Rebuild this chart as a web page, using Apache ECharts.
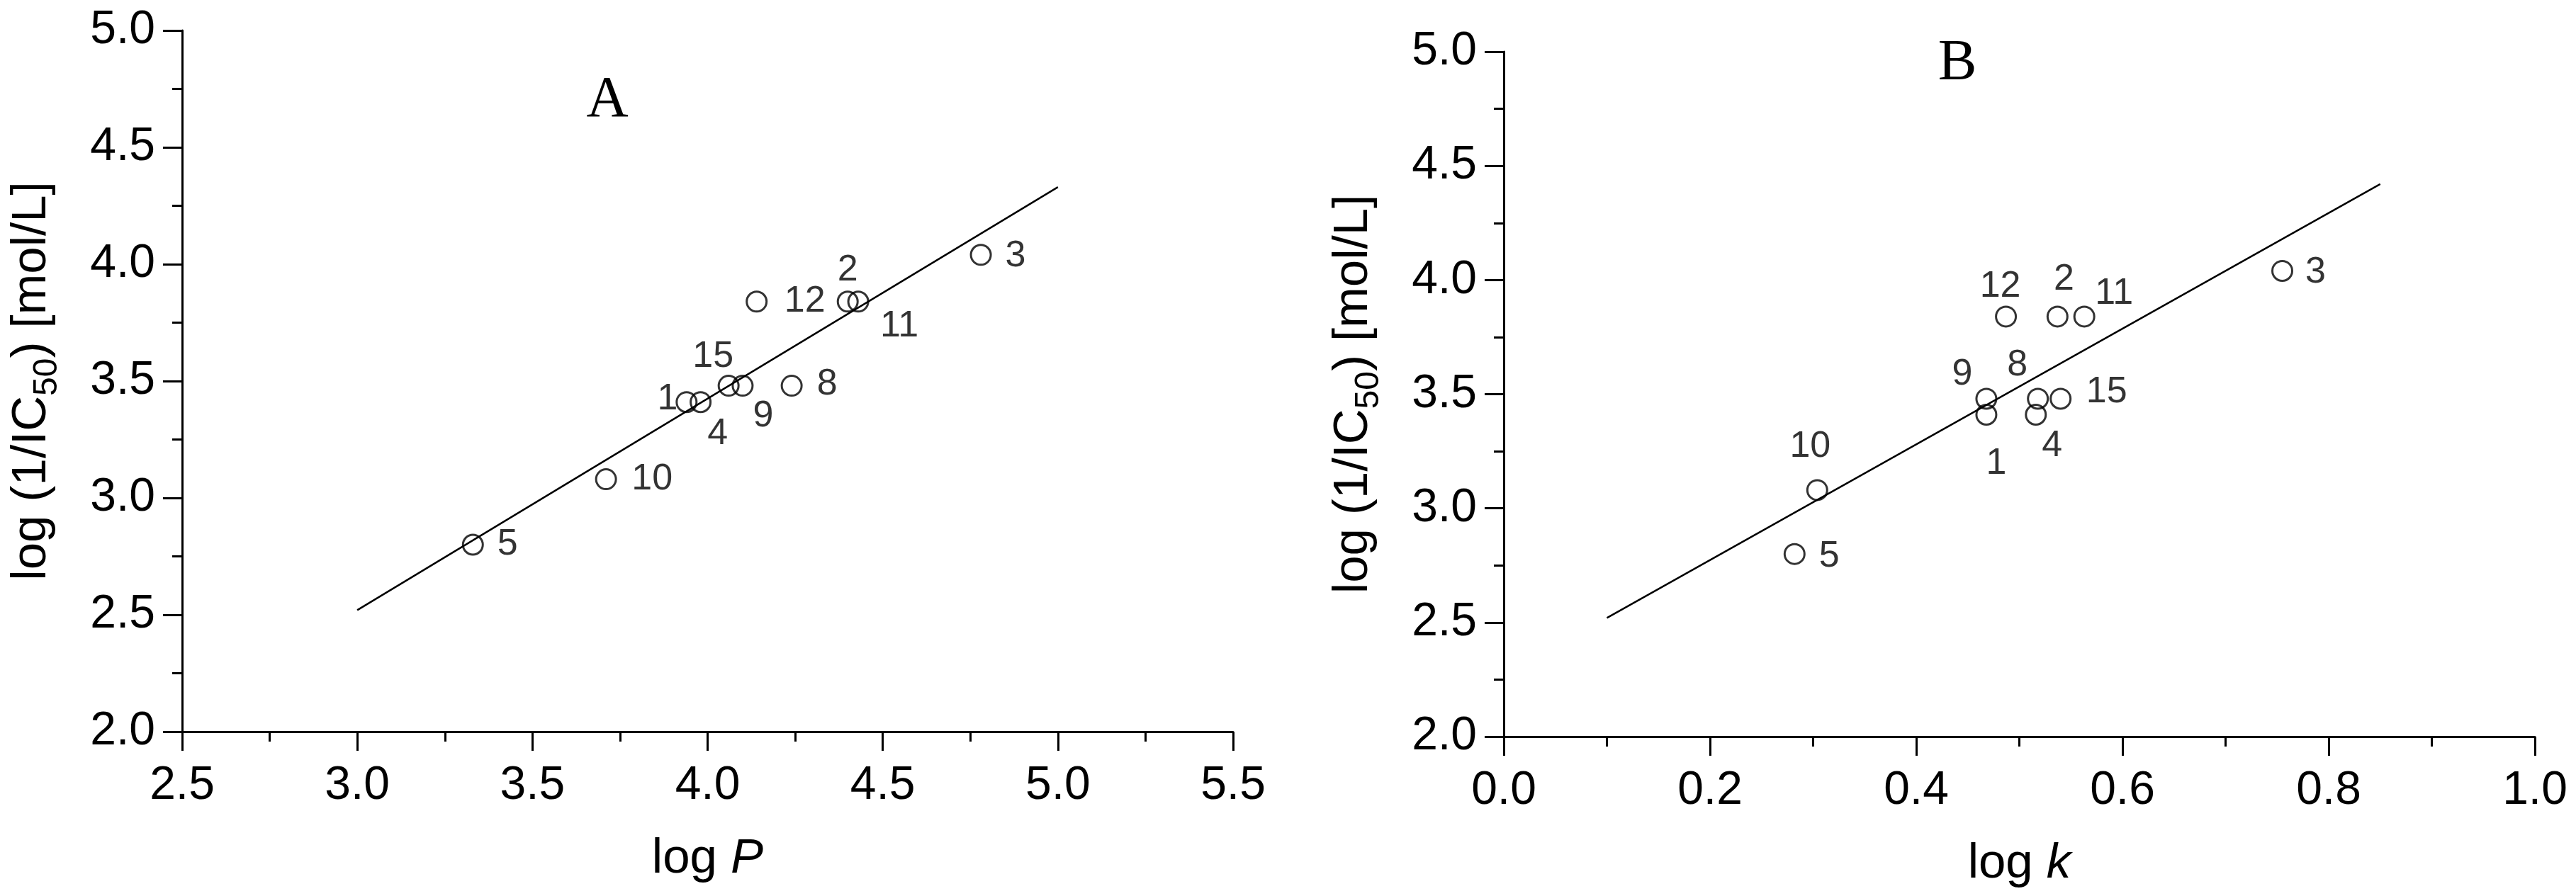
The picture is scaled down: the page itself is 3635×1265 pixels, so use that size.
<!DOCTYPE html>
<html>
<head>
<meta charset="utf-8">
<script src="https://cdn.jsdelivr.net/npm/echarts@6/dist/echarts.min.js"></script>
<style>
  html, body { margin: 0; padding: 0; background: #fff; }
  #chartDiv { width: 3635px; height: 1265px; }
</style>
</head>
<body>
<div id="chartDiv"></div>
<script>
// compound numbers
var compounds = ['1', '2', '3', '4', '5', '8', '9', '10', '11', '12', '15'];
// log (1/IC50) [mol/L]
var pIC50 = [3.41, 3.84, 4.04, 3.41, 2.80, 3.48, 3.48, 3.08, 3.84, 3.84, 3.48];
// panel A: log P
var logP = [3.94, 4.40, 4.78, 3.98, 3.33, 4.24, 4.10, 3.71, 4.43, 4.14, 4.06];
// panel B: log k
var logK = [0.468, 0.537, 0.755, 0.516, 0.282, 0.518, 0.468, 0.304, 0.563, 0.487, 0.540];
// regression lines (end points)
var fitAx = [3.0, 5.0];
var fitAy = [2.52, 4.33];
var fitBx = [0.10, 0.85];
var fitBy = [2.52, 4.42];

// label placement around each point (pixels), same order as compounds
var labelOffA = [[-27, -4], [0, -44], [49, 2], [24, 45], [49, 0], [50, -2], [29, 43], [65, 0], [58, 35], [68, 0], [-22, -41]];
var labelOffB = [[14, 69], [9, -52], [47, 2], [23, 44], [49, 4], [-29, -47], [-34, -34], [-10, -61], [42, -32], [-8, -42], [65, -9]];

var sans = '"Liberation Sans", Arial, sans-serif';
var serif = '"Liberation Serif", "Times New Roman", serif';

function points(xs, offs) {
	return compounds.map(function (c, i) {
		return { name: c, value: [xs[i], pIC50[i]], label: { offset: offs[i] } };
	});
}
function pairs(xs, ys) {
	return xs.map(function (x, i) { return [x, ys[i]]; });
}

function xAxisOf(idx, min, max, interval, nameRich) {
	return {
		gridIndex: idx, type: 'value', min: min, max: max, interval: interval,
		name: nameRich, nameLocation: 'middle', nameGap: 145,
		nameTextStyle: {
			rich: {
				n: { fontSize: 69, fontFamily: sans, color: '#000' },
				i: { fontSize: 69, fontFamily: sans, fontStyle: 'italic', color: '#000' }
			}
		},
		axisLine: { show: true, onZero: false, lineStyle: { color: '#000', width: 3 } },
		axisTick: { show: true, inside: false, length: 27, lineStyle: { color: '#000', width: 3 } },
		minorTick: { show: true, splitNumber: 2, length: 14, lineStyle: { color: '#000', width: 3 } },
		axisLabel: { fontSize: 66, fontFamily: sans, color: '#000', margin: 44,
			formatter: function (v) { return v.toFixed(1); } },
		splitLine: { show: false }
	};
}
function yAxisOf(idx) {
	return {
		gridIndex: idx, type: 'value', min: 2, max: 5, interval: 0.5,
		name: '{n|log (1/IC}{s|50}{n|) [mol/L]}',
		nameLocation: 'middle', nameGap: 166, nameRotate: 90,
		nameTextStyle: {
			rich: {
				n: { fontSize: 69, fontFamily: sans, color: '#000', verticalAlign: 'middle' },
				s: { fontSize: 48, fontFamily: sans, color: '#000', verticalAlign: 'middle', padding: [44, 0, 0, 0] }
			}
		},
		axisLine: { show: true, onZero: false, lineStyle: { color: '#000', width: 3 } },
		axisTick: { show: true, inside: false, length: 27, lineStyle: { color: '#000', width: 3 } },
		minorTick: { show: true, splitNumber: 2, length: 14, lineStyle: { color: '#000', width: 3 } },
		axisLabel: { fontSize: 66, fontFamily: sans, color: '#000', margin: 38,
			formatter: function (v) { return v.toFixed(1); } },
		splitLine: { show: false }
	};
}

function scatterOf(idx, data) {
	return {
		type: 'scatter', xAxisIndex: idx, yAxisIndex: idx,
		symbol: 'circle', symbolSize: 28,
		itemStyle: { color: 'rgba(0,0,0,0)', borderColor: '#000', borderWidth: 3 },
		label: { show: true, position: 'inside', formatter: '{b}',
			fontSize: 52, fontFamily: sans, color: '#000' },
		data: data, z: 3
	};
}
function fitOf(idx, data) {
	return {
		type: 'line', xAxisIndex: idx, yAxisIndex: idx,
		showSymbol: false, symbol: 'none',
		lineStyle: { color: '#000', width: 2.5 },
		data: data, z: 2
	};
}

var chart = echarts.init(document.getElementById('chartDiv'));
var option = {
	animation: false,
	backgroundColor: '#fff',
	grid: [
		{ left: 257, top: 43, width: 1483, height: 990, outerBoundsMode: 'none' },
		{ left: 2122, top: 73, width: 1455, height: 967, outerBoundsMode: 'none' }
	],
	xAxis: [
		xAxisOf(0, 2.5, 5.5, 0.5, '{n|log }{i|P}'),
		xAxisOf(1, 0, 1.0, 0.2, '{n|log }{i|k}')
	],
	yAxis: [yAxisOf(0), yAxisOf(1)],
	graphic: [
		{ type: 'text', x: 857, y: 142, style: { text: 'A', fontSize: 82, fontFamily: serif, fill: '#000', align: 'center', verticalAlign: 'middle' } },
		{ type: 'text', x: 2762, y: 90, style: { text: 'B', fontSize: 82, fontFamily: serif, fill: '#000', align: 'center', verticalAlign: 'middle' } }
	],
	series: [
		fitOf(0, pairs(fitAx, fitAy)),
		scatterOf(0, points(logP, labelOffA)),
		fitOf(1, pairs(fitBx, fitBy)),
		scatterOf(1, points(logK, labelOffB))
	]
};
chart.setOption(option);
</script>
</body>
</html>
